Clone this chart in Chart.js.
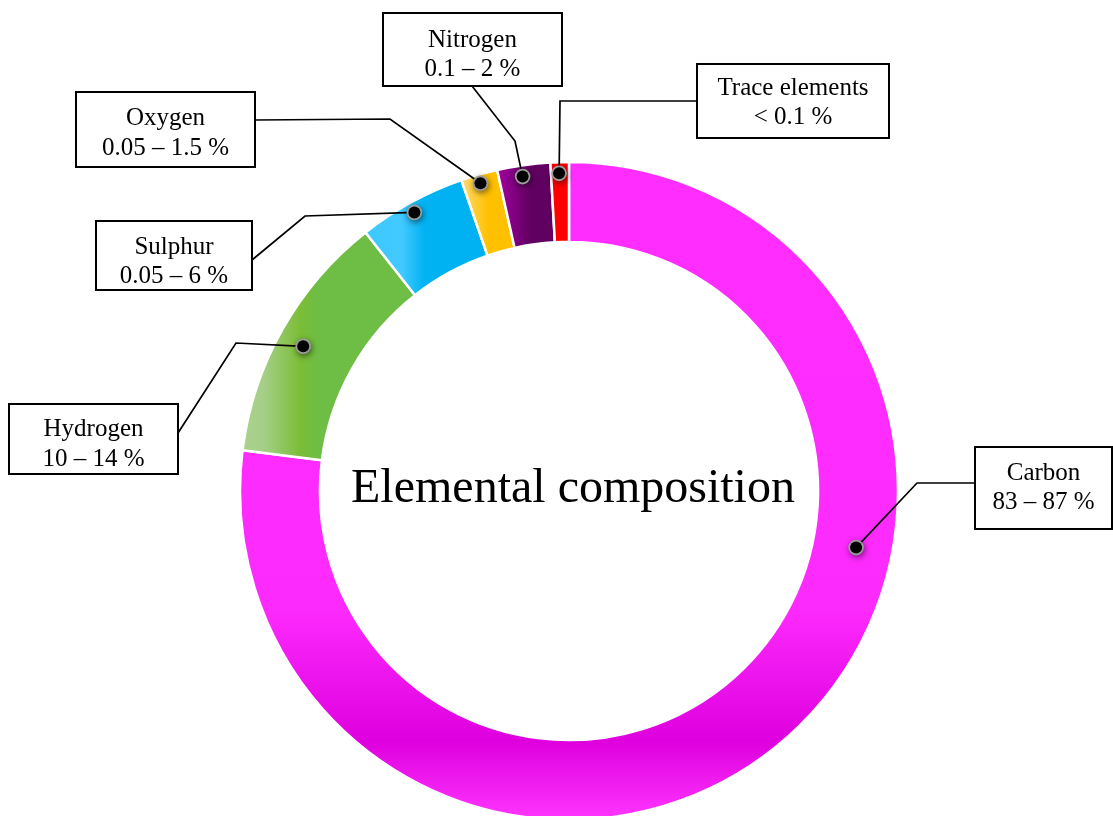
<!DOCTYPE html>
<html>
<head>
<meta charset="utf-8">
<script src="https://cdn.jsdelivr.net/npm/chart.js@4/dist/chart.umd.min.js"></script>
<style>
  html, body { margin: 0; padding: 0; background: #ffffff; overflow: hidden; }
  #wrap { width: 1113px; height: 816px; position: relative; }
</style>
</head>
<body>
<div id="wrap"><canvas id="c" width="1113" height="816"></canvas></div>
<script>
// ---- data ----
const elements = ['Carbon', 'Hydrogen', 'Sulphur', 'Oxygen', 'Nitrogen', 'Trace elements'];
const shares = [76.9, 12.4, 5.3, 1.8, 2.6, 0.9];
const ranges = ['83 – 87 %', '10 – 14 %', '0.05 – 6 %', '0.05 – 1.5 %', '0.1 – 2 %', '< 0.1 %'];
const centerTitle = 'Elemental composition';

// ---- layout / style ----
const RADIUS = 329;
const SERIF = "'Liberation Serif', 'Times New Roman', serif";
// callout boxes: rect, first baseline, leader path (box edge -> elbow), dot placement inside the arc
const callouts = [
  { box: [975, 447, 137, 82], base: 479.5, path: [[975, 483], [917, 483]], t: 0.365, rf: 0.545 },
  { box: [9, 404, 169, 70], base: 436, path: [[178, 433], [236, 343]], t: 0.48, rf: 0.67 },
  { box: [96, 221, 156, 69], base: 253.5, path: [[252, 260], [305, 216]], t: 0.48, rf: 0.87 },
  { box: [76, 92, 179, 75], base: 125, path: [[255, 120], [390, 119]], t: 0.47, rf: 0.89 },
  { box: [383, 13, 179, 73], base: 46.5, path: [[472, 86], [515, 141]], t: 0.45, rf: 0.86 },
  { box: [697, 64, 192, 74], base: 94.5, path: [[697, 101], [560, 101]], t: 0.45, rf: 0.86 }
];

function geom(chart) {
  const a = chart.chartArea;
  return { cx: (a.left + a.right) / 2, cy: (a.top + a.bottom) / 2 };
}

function sliceColor(ctx) {
  const chart = ctx.chart;
  if (!chart.chartArea) return '#ff2dff';
  const { cx, cy } = geom(chart);
  const c = chart.ctx;
  const R = RADIUS;
  let g;
  switch (ctx.dataIndex) {
    case 0:
      g = c.createLinearGradient(0, cy - R, 0, cy + R);
      g.addColorStop(0, '#ff2eff');
      g.addColorStop(0.68, '#fd2afd');
      g.addColorStop(0.88, '#de00de');
      g.addColorStop(1, '#ff36ff');
      return g;
    case 1:
      g = c.createLinearGradient(cx - R, 0, cx - R + 78, 0);
      g.addColorStop(0, '#abd290');
      g.addColorStop(0.3, '#a5cf88');
      g.addColorStop(0.78, '#7bbd36');
      g.addColorStop(1, '#6ebd45');
      return g;
    case 2:
      g = c.createLinearGradient(cx - 210, 0, cx - 80, 0);
      g.addColorStop(0, '#3cc8ff');
      g.addColorStop(0.33, '#42c9ff');
      g.addColorStop(0.5, '#02b3f3');
      g.addColorStop(1, '#00b0f0');
      return g;
    case 3:
      g = c.createLinearGradient(cx - 108, 0, cx - 80, 0);
      g.addColorStop(0, '#ffdc72');
      g.addColorStop(1, '#ffc000');
      return g;
    case 4:
      g = c.createLinearGradient(cx - 72, 0, cx - 38, 0);
      g.addColorStop(0, '#a100a1');
      g.addColorStop(1, '#600060');
      return g;
    default:
      return '#ff0000';
  }
}

const calloutPlugin = {
  id: 'callouts',
  afterDatasetsDraw(chart) {
    const c = chart.ctx;
    const { cx, cy } = geom(chart);
    const arcs = chart.getDatasetMeta(0).data;
    c.save();
    // center title
    c.fillStyle = '#000';
    c.font = '48px ' + SERIF;
    c.textAlign = 'center';
    c.textBaseline = 'alphabetic';
    c.fillText(centerTitle, cx + 4, 502);

    callouts.forEach((co, i) => {
      const arc = arcs[i];
      const p = arc.getProps(['startAngle', 'endAngle', 'innerRadius', 'outerRadius'], true);
      const ang = p.startAngle + co.t * (p.endAngle - p.startAngle);
      const r = p.innerRadius + co.rf * (p.outerRadius - p.innerRadius);
      const dx = cx + Math.cos(ang) * r;
      const dy = cy + Math.sin(ang) * r;

      // leader
      c.strokeStyle = '#000';
      c.lineWidth = 1.7;
      c.beginPath();
      c.moveTo(co.path[0][0], co.path[0][1]);
      for (let k = 1; k < co.path.length; k++) c.lineTo(co.path[k][0], co.path[k][1]);
      c.lineTo(dx, dy);
      c.stroke();

      // box
      const [bx, by, bw, bh] = co.box;
      c.fillStyle = '#fff';
      c.fillRect(bx, by, bw, bh);
      c.lineWidth = 2;
      c.strokeStyle = '#000';
      c.strokeRect(bx, by, bw, bh);

      // text
      c.fillStyle = '#000';
      c.font = '25px ' + SERIF;
      c.textAlign = 'center';
      c.fillText(elements[i], bx + bw / 2, co.base);
      c.fillText(ranges[i], bx + bw / 2, co.base + 29.5);

      // dot
      c.save();
      c.shadowColor = 'rgba(0,0,0,0.55)';
      c.shadowBlur = 6;
      c.shadowOffsetX = 1;
      c.shadowOffsetY = 2;
      c.fillStyle = '#9c9c9c';
      c.beginPath();
      c.arc(dx, dy, 7.8, 0, Math.PI * 2);
      c.fill();
      c.restore();
      c.fillStyle = '#000';
      c.beginPath();
      c.arc(dx, dy, 6, 0, Math.PI * 2);
      c.fill();
    });
    c.restore();
  }
};

new Chart(document.getElementById('c'), {
  type: 'doughnut',
  data: {
    labels: elements,
    datasets: [{
      data: shares,
      backgroundColor: sliceColor,
      borderColor: '#ffffff',
      borderWidth: 2.5,
      clip: false
    }]
  },
  options: {
    responsive: false,
    animation: false,
    events: [],
    radius: RADIUS,
    cutout: '75.7%',
    layout: { padding: { left: 25, right: 0, top: 166, bottom: 0 } },
    plugins: {
      legend: { display: false },
      tooltip: { enabled: false },
      title: { display: false }
    }
  },
  plugins: [calloutPlugin]
});
</script>
</body>
</html>
